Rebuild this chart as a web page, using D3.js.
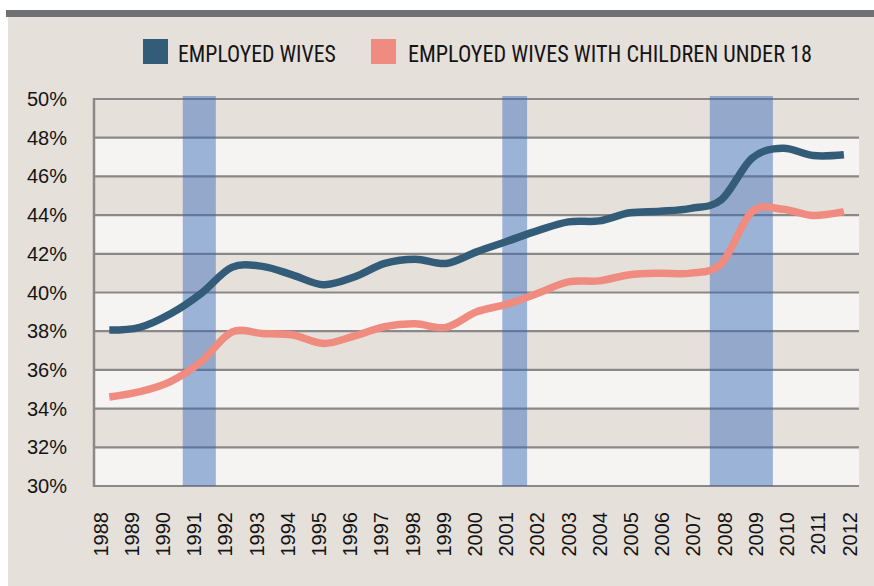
<!DOCTYPE html>
<html>
<head>
<meta charset="utf-8">
<script src="https://cdn.jsdelivr.net/npm/d3@7"></script>
<style>
  html, body { margin: 0; padding: 0; background: #ffffff; }
  svg { display: block; }
  text { font-family: "Liberation Sans", Arial, Helvetica, sans-serif; fill: #141414; }
  text.leg { font-family: "Liberation Sans Narrow", "Roboto Condensed", "Liberation Sans", Arial, sans-serif; }
</style>
</head>
<body>
<script>
// ---- data ----
const years = [1988, 1989, 1990, 1991, 1992, 1993, 1994, 1995, 1996, 1997, 1998, 1999, 2000,
               2001, 2002, 2003, 2004, 2005, 2006, 2007, 2008, 2009, 2010, 2011, 2012];
const employedWives = [38.06, 38.2, 38.9, 39.95, 41.3, 41.35, 40.9, 40.4, 40.8, 41.5, 41.72, 41.5, 42.1,
                       42.65, 43.2, 43.65, 43.7, 44.12, 44.2, 44.35, 44.8, 46.95, 47.45, 47.08, 47.12];
const wivesWithChildren = [34.6, 34.88, 35.4, 36.43, 37.95, 37.88, 37.8, 37.37, 37.75, 38.24, 38.38, 38.2, 39.0,
                           39.4, 39.96, 40.55, 40.6, 40.92, 41.0, 41.0, 41.5, 44.18, 44.3, 43.98, 44.18];
const yTicks = [30, 32, 34, 36, 38, 40, 42, 44, 46, 48, 50];
const yTickLabels = ["30%", "32%", "34%", "36%", "38%", "40%", "42%", "44%", "46%", "48%", "50%"];
// recession periods (fractional years)
const recessionStart = [1990.4, 2000.84, 2007.62];
const recessionEnd   = [1991.48, 2001.65, 2009.68];
const seriesNames = ["EMPLOYED WIVES", "EMPLOYED WIVES WITH CHILDREN UNDER 18"];

// ---- styles ----
const colDark = "#335c79";
const colSalmon = "#ef8b7f";
const colBg = "#e6e0db";
const colLight = "#f5f4f2";
const colGrid = "#8b8987";

const W = 874, H = 586;
const svg = d3.select("body").append("svg").attr("width", W).attr("height", H);

// background
svg.append("rect").attr("x", 8).attr("y", 17).attr("width", W - 8).attr("height", H - 17).attr("fill", colBg);
svg.append("rect").attr("x", 6).attr("y", 10).attr("width", W - 6).attr("height", 7).attr("fill", "#6f7074");

// scales
const plotL = 94, plotR = 859;
const x = d3.scaleLinear().domain([1988, 2012]).range([109.3, 843.9]);
const y = d3.scaleLinear().domain([30, 50]).range([486, 99]);
const xLab = d3.scalePoint().domain(years).range([100.5, 849.5]);

// stripes
const g = svg.append("g");
for (let i = 0; i < yTicks.length - 1; i++) {
  g.append("rect")
    .attr("x", plotL).attr("width", plotR - plotL)
    .attr("y", y(yTicks[i + 1])).attr("height", y(yTicks[i]) - y(yTicks[i + 1]))
    .attr("fill", i % 2 === 0 ? colLight : colBg);
}
// gridlines
g.selectAll("line.grid").data(yTicks).join("line")
  .attr("class", "grid")
  .attr("x1", plotL).attr("x2", plotR)
  .attr("y1", d => y(d)).attr("y2", d => y(d))
  .attr("stroke", colGrid).attr("stroke-width", 2.2);
// left axis line
g.append("line").attr("x1", plotL).attr("x2", plotL)
  .attr("y1", y(50) - 1).attr("y2", y(30) + 1)
  .attr("stroke", colGrid).attr("stroke-width", 2.5);

// recession bands
g.selectAll("rect.band").data(recessionStart).join("rect")
  .attr("class", "band")
  .attr("x", (d, i) => x(d))
  .attr("width", (d, i) => x(recessionEnd[i]) - x(d))
  .attr("y", y(50) - 3)
  .attr("height", y(30) - y(50) + 3)
  .attr("fill", "rgb(49,100,184)")
  .attr("fill-opacity", 0.45);

// lines
const line = d3.line().x((d, i) => x(years[i])).y(d => y(d)).curve(d3.curveCatmullRom.alpha(0));
svg.append("path").attr("d", line(wivesWithChildren))
  .attr("fill", "none").attr("stroke", colSalmon).attr("stroke-width", 7.5);
svg.append("path").attr("d", line(employedWives))
  .attr("fill", "none").attr("stroke", colDark).attr("stroke-width", 7.5);

// y labels
svg.selectAll("text.ylab").data(yTicks).join("text")
  .attr("class", "ylab")
  .attr("x", 67).attr("y", d => y(d)).attr("dy", "0.35em")
  .attr("text-anchor", "end").attr("font-size", 20)
  .text((d, i) => yTickLabels[i]);

// x labels
svg.selectAll("text.xlab").data(years).join("text")
  .attr("class", "xlab")
  .attr("transform", d => `translate(${xLab(d)},512) rotate(-90)`)
  .attr("dy", "0.35em")
  .attr("text-anchor", "end").attr("font-size", 20)
  .text(d => d);

// legend
const legX = [143, 371], legTextX = [178, 408], legTextW = [158, 404];
const legCols = [colDark, colSalmon];
seriesNames.forEach((name, i) => {
  svg.append("rect").attr("x", legX[i]).attr("y", 39).attr("width", 25).attr("height", 25).attr("fill", legCols[i]);
  const t = svg.append("text").attr("class", "leg")
    .attr("x", 0).attr("y", 0)
    .attr("font-size", 23.5)
    .text(name);
  const natural = t.node().getComputedTextLength();
  const sx = legTextW[i] / natural;
  t.attr("transform", `translate(${legTextX[i]},61.8) scale(${sx},1)`);
});
</script>
</body>
</html>
